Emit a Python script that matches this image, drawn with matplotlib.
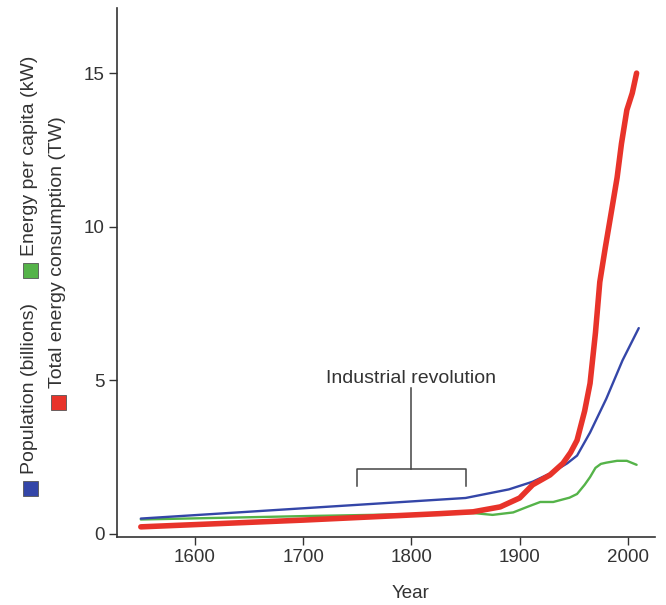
import matplotlib

matplotlib.use("Agg")
import matplotlib.pyplot as plt
from matplotlib.patches import Rectangle

plt.rcParams["font.family"] = ["Liberation Sans", "DejaVu Sans"]

# values
POP_YEARS = [1550, 1850, 1890, 1912, 1930, 1944, 1953, 1965, 1980, 1995, 2010]
POP = [0.50, 1.17, 1.45, 1.70, 2.00, 2.30, 2.55, 3.30, 4.40, 5.65, 6.70]

ENERGY_YEARS = [1550, 1700, 1826, 1857, 1882, 1900, 1912, 1928, 1940, 1947,
                1953, 1960, 1965, 1970, 1974, 1979, 1985, 1990, 1994, 1999,
                2004, 2008]
ENERGY_TW = [0.23, 0.45, 0.66, 0.72, 0.88, 1.17, 1.60, 1.92, 2.30, 2.65,
             3.05, 4.00, 4.90, 6.55, 8.20, 9.30, 10.55, 11.60, 12.70, 13.80,
             14.35, 15.00]

PERCAP_YEARS = [1550, 1700, 1857, 1875, 1894, 1907, 1919, 1931, 1946, 1953,
                1960, 1965, 1970, 1975, 1980, 1990, 1999, 2008]
PERCAP_KW = [0.47, 0.58, 0.68, 0.62, 0.70, 0.88, 1.04, 1.04, 1.18, 1.30,
             1.60, 1.85, 2.15, 2.28, 2.32, 2.38, 2.38, 2.25]

X_TICKS = [1600, 1700, 1800, 1900, 2000]
Y_TICKS = [0, 5, 10, 15]

BLUE = "#3446a8"
RED = "#e8332a"
GREEN = "#55b349"
AXIS = "#333333"

fig = plt.figure(figsize=(6.66, 6.05), dpi=100)
ax = fig.add_axes([117 / 666, 1 - 537 / 605, 538 / 666, 529 / 605])

ax.plot(PERCAP_YEARS, PERCAP_KW, color=GREEN, linewidth=1.7, solid_capstyle="round")
ax.plot(POP_YEARS, POP, color=BLUE, linewidth=1.7, solid_capstyle="round")
ax.plot(ENERGY_YEARS, ENERGY_TW, color=RED, linewidth=4.0, solid_capstyle="round",
        solid_joinstyle="round")

# industrial revolution bracket
ax.plot([1750, 1750, 1850, 1850], [1.55, 2.12, 2.12, 1.55], color="#444444", linewidth=1.1)
ax.plot([1800, 1800], [2.12, 4.75], color="#444444", linewidth=1.1)
ax.text(1800, 5.05, "Industrial revolution", ha="center", va="center",
        fontsize=14, color="#333333")

ax.set_xlim(1528, 2025)
ax.set_ylim(-0.1, 17.12)
ax.set_xticks(X_TICKS)
ax.set_yticks(Y_TICKS)
ax.tick_params(direction="out", length=6, width=1, color=AXIS, labelsize=13.5,
               labelcolor="#333333", pad=3)
for side in ["top", "right"]:
    ax.spines[side].set_visible(False)
for side in ["left", "bottom"]:
    ax.spines[side].set_color(AXIS)
    ax.spines[side].set_linewidth(1.2)

ax.set_xlabel("Year", fontsize=13.5, color="#333333")
ax.xaxis.set_label_coords(0.545, -0.09)

# rotated legend on the left
legend_items = [
    (30, 488, BLUE, "Population (billions)"),
    (30, 270, GREEN, "Energy per capita (kW)"),
    (58, 402, RED, "Total energy consumption (TW)"),
]
sq = 15
for px, py, color, label in legend_items:
    fig.add_artist(Rectangle(((px - sq / 2) / 666, 1 - (py + sq / 2) / 605),
                             sq / 666, sq / 605, transform=fig.transFigure,
                             facecolor=color, edgecolor="#555555", linewidth=0.6))
    fig.text(px / 666, 1 - (py - sq / 2 - 7) / 605, label, rotation=90,
             ha="center", va="bottom", fontsize=14, color="#333333")

fig.savefig("out.png", dpi=100)
